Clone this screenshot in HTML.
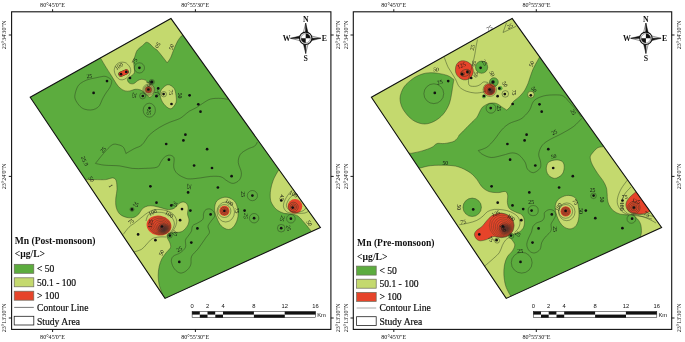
<!DOCTYPE html>
<html lang="en"><head><meta charset="utf-8"><title>Mn concentration maps</title>
<style>
html,body{margin:0;padding:0;background:#fff;}
body{width:685px;height:342px;overflow:hidden;}
svg{display:block;font-family:"Liberation Serif","DejaVu Serif",serif;fill:#111;filter:blur(0.4px);}
</style></head><body>
<svg width="685" height="342" viewBox="0 0 685 342">
<defs>
<radialGradient id="dense"><stop offset="0" stop-color="#332a2a" stop-opacity="0.85"/><stop offset="0.45" stop-color="#3a2a28" stop-opacity="0.55"/><stop offset="1" stop-color="#402820" stop-opacity="0"/></radialGradient>
<clipPath id="clipL"><polygon points="170.9,18.4 320.4,227.5 165,298.4 30.2,97.2"/></clipPath>
<clipPath id="clipR"><polygon points="512.1,18.4 661.6,227.5 506.2,298.4 371.4,97.2"/></clipPath>
</defs>
<rect width="685" height="342" fill="#fff"/>
<g clip-path="url(#clipL)">
<rect x="20" y="10" width="310" height="295" fill="#5cac3e"/>
<path d="M100.8 58.5C101.7 60 104.3 64.6 106.1 67.4C107.8 70.2 109.6 72.9 111.3 75.6C113 78.3 115 81.7 116.4 83.8C117.9 85.9 118.6 86.8 120 88C121.4 89.2 123.3 90.4 125 90.9C126.7 91.4 128.3 91.2 130 90.9C131.7 90.6 133.4 89.5 135.1 89.3C136.8 89.1 138.7 89.3 140.2 89.8C141.7 90.3 142.9 91.3 144.3 92.4C145.7 93.5 147.4 95.7 148.4 96.5C149.4 97.3 149.7 97.5 150.5 97C151.3 96.5 152.8 94.7 153.5 93.4C154.2 92.1 154.7 90.6 154.6 89.3C154.5 88 153.7 86.6 153 85.7C152.3 84.8 151.4 84.3 150.5 83.7C149.6 83.1 148.2 82.8 147.4 82.2C146.6 81.6 146.4 80.6 145.4 80.1C144.4 79.6 142.6 79.2 141.3 79.3C140.1 79.4 139.2 79.8 137.9 80.5C136.7 81.2 135.2 83.1 133.8 83.6C132.4 84.1 130.7 83.8 129.7 83.3C128.7 82.8 127.9 81.6 127.6 80.7C127.3 79.8 127.4 78.9 128.1 78.1C128.8 77.2 130.6 76.5 131.7 75.6C132.8 74.7 134 73.9 134.4 72.5C134.8 71.1 134.3 69.3 134.2 67.4C134.1 65.5 133.5 63.2 133.6 61.3C133.7 59.4 134.4 58 135 56.1C135.6 54.2 136.1 51.8 137.4 50C138.7 48.2 141.1 46.8 142.6 45.5C144.1 44.2 145.1 42.5 146.3 42.3C147.5 42 148.8 43.1 150 44C151.2 44.9 152.3 46.6 153.5 47.6C154.7 48.6 155.8 48.9 157 50C158.2 51.1 159.2 52.6 160.4 54C161.6 55.4 162.8 57 163.9 58.5C165 60 167.2 62.8 167.2 62.8C167.2 62.8 169.6 59.8 170.7 57.5C171.8 55.2 172.8 51.8 174 49C175.2 46.2 176.5 43.2 177.7 41C178.9 38.8 180.8 36.8 181.4 36L190 30L171 8L90 55Z" fill="#c4d96e" stroke="#2b3a20" stroke-width="0.45"/>
<path d="M167.9 84.7C170 84.5 172.7 86.5 174 88.3C175.3 90.1 175.7 93.1 176 95.5C176.3 97.9 176.7 100.5 176 102.6C175.3 104.7 173.3 107.4 172 108.3C170.7 109.2 169.4 108.8 167.9 107.8C166.4 106.8 164.1 104.6 162.8 102.6C161.5 100.5 160.4 97.7 160.2 95.5C160 93.3 160.4 91.1 161.7 89.3C163 87.5 165.8 84.9 167.9 84.7Z" fill="#c4d96e" stroke="#2b3a20" stroke-width="0.45"/>
<path d="M86.3 179.6C87.8 179.6 91.9 179.6 95.1 179.6C98.3 179.6 102.7 179.9 105.6 179.6C108.5 179.3 110.8 177.8 112.6 177.9C114.3 178.1 115.4 178.6 116.1 180.5C116.8 182.4 117 186.4 117 189.3C117 192.2 116 195.2 115.8 198.1C115.6 201 115.5 204.2 116.1 206.8C116.7 209.4 117.8 212.1 119.6 213.9C121.4 215.7 124.4 216.8 126.7 217.4C129.1 218 131.7 218 133.7 217.4C135.7 216.8 137.4 215.4 138.9 213.9C140.4 212.4 141 209.9 142.5 208.6C144 207.3 145.8 206.4 147.7 206C149.6 205.6 151.4 205.6 153.9 206C156.4 206.4 160.2 207.6 162.6 208.2C165 208.8 166.6 209.6 168.5 209.6C170.4 209.6 172.6 209.2 174.3 208.2C176 207.2 177.2 204.9 178.7 203.8C180.2 202.8 181.8 201.9 183.1 201.9C184.4 201.9 186 202.8 186.8 203.8C187.7 204.9 188.1 206.5 188.2 208.2C188.3 209.9 187.4 212.1 187.5 214C187.6 215.9 189 218 189 219.9C189 221.8 188.5 223.9 187.5 225.7C186.5 227.5 184.6 229.7 183.1 230.8C181.6 231.9 180.4 232.1 178.7 232.3C177 232.6 174.6 232.1 172.9 232.3C171.2 232.5 169.5 232.9 168.5 233.7C167.5 234.5 166.8 235.6 167 237C167.2 238.4 169 240.6 169.6 242.3C170.2 244.1 171.1 245.8 170.5 247.5C169.9 249.2 167.5 250.9 166.1 252.8C164.7 254.7 163 256.6 161.8 258.9C160.6 261.2 159.7 264 159.1 266.8C158.5 269.6 158.2 272.7 158.2 275.6C158.2 278.5 158.6 282 159.1 284.4C159.6 286.8 160.2 288.1 160.9 290C161.6 291.9 162.7 295 163 296L160 305L70 180Z" fill="#c4d96e" stroke="#2b3a20" stroke-width="0.45"/>
<path d="M224.1 197.3C226.5 196.9 229.3 197.6 231.4 198.8C233.5 200 235.4 201.7 236.5 204.6C237.6 207.5 238.4 212.8 238 216.3C237.6 219.8 235.9 223.6 234.3 225.8C232.7 228 230.7 229.5 228.5 229.5C226.3 229.5 223.1 227.8 221.2 225.8C219.2 223.9 217.9 220.6 216.8 217.8C215.7 215 214.6 211.8 214.6 209C214.6 206.2 215.2 202.9 216.8 201C218.4 199.1 221.7 197.7 224.1 197.3Z" fill="#c4d96e" stroke="#2b3a20" stroke-width="0.45"/>
<path d="M278.2 170.7C277.4 172.2 274.6 176.8 273.3 180C272 183.2 271.1 186.8 270.6 190C270.1 193.2 270.1 196.6 270.4 199C270.7 201.4 271.4 202.8 272.5 204.6C273.6 206.4 274.9 208.4 276.8 209.8C278.7 211.2 281.3 212.6 283.9 213.3C286.5 214 290.3 213.8 292.6 214.2C294.9 214.6 296.3 215 297.9 216C299.5 217 300.8 218.8 302.3 220.4C303.8 222 305.1 223.7 306.7 225.6C308.2 227.5 310.8 230.7 311.6 231.7L330 235L330 220L285 165Z" fill="#c4d96e" stroke="#2b3a20" stroke-width="0.45"/>
<path d="M121 74.1L126.2 71.9" stroke="#e6442a" stroke-width="4.6" stroke-linecap="round"/>
<circle cx="148.5" cy="89.7" r="3.3" fill="#e6442a"/>
<ellipse cx="159" cy="225.5" rx="12.5" ry="10" fill="#e6442a" transform="rotate(10 159 225.5)"/>
<circle cx="224.4" cy="210.9" r="5.1" fill="#e6442a"/>
<circle cx="295" cy="206.3" r="7.3" fill="#e6442a"/>
<path d="M114.3 69.4C114.5 67.7 115.5 65.7 116.5 64.5C117.5 63.3 119.1 62.6 120.5 62.3C121.9 62 123.8 62.2 125 62.5C126.2 62.8 126.8 63.5 127.6 64.3C128.4 65.1 129.5 66.3 130 67.5C130.5 68.7 130.9 70.1 130.7 71.5C130.4 72.9 129.5 74.7 128.5 76C127.5 77.3 125.8 78.6 124.6 79.2C123.3 79.8 122 79.9 121 79.8C120 79.7 119.3 79.5 118.4 78.7C117.5 77.9 116.2 76.5 115.5 75C114.8 73.5 114.1 71.2 114.3 69.4Z" fill="none" stroke="#2b3a20" stroke-width="0.45"/>
<path d="M121 74.1L126.2 71.9" stroke="#2b3a20" stroke-width="5.4" stroke-linecap="round" opacity="0.0"/>
<path d="M121 74.1L126.2 71.9" stroke="#2b3a20" stroke-width="5.3" stroke-linecap="round"/><path d="M121 74.1L126.2 71.9" stroke="#e6442a" stroke-width="4.4" stroke-linecap="round"/>
<circle cx="148.5" cy="89.7" r="1.5" fill="none" stroke="#2b3a20" stroke-width="0.45"/>
<circle cx="148.5" cy="89.7" r="2.5" fill="none" stroke="#2b3a20" stroke-width="0.45"/>
<circle cx="148.5" cy="89.7" r="3.4" fill="none" stroke="#2b3a20" stroke-width="0.45"/>
<circle cx="148.5" cy="89.7" r="4.5" fill="none" stroke="#2b3a20" stroke-width="0.45"/>
<circle cx="148.5" cy="89.7" r="5.6" fill="none" stroke="#2b3a20" stroke-width="0.45"/>
<path d="M74.9 95C75.3 92.6 76.6 88.2 78 86C79.4 83.8 81.7 82.6 83.5 81.5C85.3 80.4 87.1 79.9 89 79.3C90.9 78.7 93 78.4 95 78C97 77.6 99.5 77 101.2 76.7C102.9 76.4 103.8 76.2 105 76.3C106.2 76.4 107.2 77 108.2 77.5C109.2 78 110.4 78.8 111 79.5C111.6 80.2 112 80.7 111.8 82C111.6 83.3 110.8 85.6 110 87.2C109.2 88.8 107.9 90.2 107 91.5C106.1 92.8 105.5 93.6 104.7 95C103.9 96.4 102.9 98.2 102 100C101.1 101.8 100.6 104.1 99.5 105.6C98.4 107.1 97 108.1 95.5 108.8C94 109.5 92.5 109.9 90.7 110C89 110.1 86.8 109.9 85 109.3C83.2 108.7 81.7 108 80.2 106.5C78.7 105 76.7 102.3 75.8 100.4C74.9 98.5 74.5 97.4 74.9 95Z" fill="none" stroke="#2b3a20" stroke-width="0.45"/>
<path d="M228.1 99.4C226.9 99.2 223.8 98.5 220.9 98.4C218 98.3 213.8 98.2 210.7 99C207.6 99.8 204.9 102.1 202.5 103.5C200.1 104.9 198.6 106.3 196.4 107.6C194.2 108.9 191.4 109.9 189.3 111.2C187.2 112.5 185.7 114.2 184 115.5C182.3 116.8 181.8 117.5 179.4 118.7C177 119.9 172.7 121 169.4 122.4C166.1 123.9 162.8 125.3 159.5 127.4C156.2 129.5 152.4 131.9 149.5 134.8C146.6 137.7 144.5 142.5 142 144.8C139.5 147.1 137.3 147.1 134.6 148.5C131.9 149.9 125.9 153.5 125.9 153.5C125.9 153.5 124.7 148.8 123.4 147.3C122.2 145.9 120.3 145.2 118.4 144.8C116.5 144.4 114.7 143.4 112.2 144.8C109.7 146.2 106.3 150.4 103.5 153.5C100.7 156.6 95.5 163.4 95.5 163.4C95.5 163.4 100.7 164.8 104.7 165.2C108.7 165.6 115.1 165.4 119.7 165.9C124.3 166.4 128 168 132.1 168.4C136.2 168.8 140.3 168.6 144.5 168.4C148.7 168.2 154.3 168.2 157 167.2C159.7 166.2 159.5 163.9 160.7 162.2C161.9 160.5 162.9 158.4 164.4 157.2C165.9 156 167.8 155.1 169.4 155.2C171 155.3 173.3 155.8 174 157.8C174.7 159.9 173.2 164.8 173.8 167.5C174.4 170.2 175.6 172.1 177.5 173.8C179.4 175.6 182.9 177.2 185 178C187.1 178.8 187.6 178.9 190.2 178.9C192.8 178.9 197.1 178.3 200.5 177.9C203.9 177.5 207.3 176.6 210.7 176.4C214.1 176.2 218.2 176.1 220.9 176.8C223.6 177.6 225.1 179.8 227.1 180.9C229.1 182 231.1 183.6 233.2 183.4C235.2 183.2 238 181.7 239.4 179.9C240.8 178.1 241.6 175.6 241.4 172.7C241.2 169.8 238.5 165.6 238.3 162.5C238.1 159.4 238.9 156.5 240.4 154.3C241.9 152.1 245.1 150.6 247.5 149.2C249.9 147.8 253 147.3 254.7 146.1C256.3 144.9 256.9 142.7 257.4 142" fill="none" stroke="#2b3a20" stroke-width="0.45"/>
<path d="M134 251.9C135.3 251.5 139.5 250.6 141.6 249.3C143.7 248 145.1 245.8 146.8 244C148.6 242.2 150.1 240 152.1 238.8C154.1 237.6 156.8 237.3 159.1 237C161.4 236.7 164.9 237 166.1 237" fill="none" stroke="#2b3a20" stroke-width="0.45"/>
<path d="M123.2 234.5C124.2 233.3 127 229.1 129 227.2C130.9 225.2 132.7 224.5 134.9 222.8C137.1 221.1 140 218.6 142.2 216.9C144.4 215.2 145.8 213.7 148 212.5C150.2 211.3 152.4 209.9 155.3 209.6C158.2 209.2 162.7 209.7 165.6 210.4C168.5 211.1 171.1 212.4 172.9 214C174.7 215.6 176 218 176.5 219.9C177 221.8 176.4 223.9 175.8 225.7C175.2 227.5 174 229.3 172.9 230.8C171.8 232.3 169.7 233.9 169 234.5" fill="none" stroke="#2b3a20" stroke-width="0.45"/>
<path d="M146 221C146.4 219.9 146.9 215.9 148.7 214.5C150.5 213.1 154 212.5 156.8 212.3C159.6 212.1 163.2 212.5 165.6 213.3C168 214.1 169.9 215.3 171.4 216.9C172.9 218.5 174 220.9 174.3 222.8C174.6 224.7 173.8 226.7 173 228.5C172.2 230.3 170.1 232.7 169.5 233.5" fill="none" stroke="#2b3a20" stroke-width="0.45"/>
<ellipse cx="159.8" cy="225.7" rx="10.9" ry="8.9" fill="none" stroke="#2b3a20" stroke-width="0.31875" transform="rotate(10 159.8 225.7)"/>
<ellipse cx="160.3" cy="226.1" rx="9.5" ry="7.8" fill="none" stroke="#2b3a20" stroke-width="0.33749999999999997" transform="rotate(10 160.3 226.1)"/>
<ellipse cx="160.8" cy="226.5" rx="8" ry="6.6" fill="none" stroke="#2b3a20" stroke-width="0.35624999999999996" transform="rotate(10 160.8 226.5)"/>
<ellipse cx="161.3" cy="226.9" rx="6.6" ry="5.4" fill="none" stroke="#2b3a20" stroke-width="0.375" transform="rotate(10 161.3 226.9)"/>
<ellipse cx="161.8" cy="227.3" rx="5.2" ry="4.3" fill="none" stroke="#2b3a20" stroke-width="0.39375" transform="rotate(10 161.8 227.3)"/>
<ellipse cx="162.3" cy="227.7" rx="3.8" ry="3.1" fill="none" stroke="#2b3a20" stroke-width="0.4125" transform="rotate(10 162.3 227.7)"/>
<ellipse cx="162.8" cy="228.1" rx="2.3" ry="1.9" fill="none" stroke="#2b3a20" stroke-width="0.43125" transform="rotate(10 162.8 228.1)"/>
<ellipse cx="163.6" cy="228.6" rx="7.5" ry="6.5" fill="url(#dense)"/>
<path d="M203.6 213.4C204.1 211.8 204.7 210.4 205.8 209.7C206.9 209 208.8 208.6 210.2 209C211.5 209.4 213.2 210.7 213.9 211.9C214.6 213.1 215.1 214.7 214.6 216.3C214.1 217.9 212 219.7 210.9 221.4C209.8 223.1 208.2 224.7 208 226.5C207.8 228.3 209.8 230.7 209.5 232.4C209.2 234.1 207.5 235.4 206.5 236.8C205.5 238.2 205.1 238.9 203.6 241C202.1 243.1 199.7 246.8 197.7 249.3C195.7 251.9 192.8 253.7 191.6 256.3C190.4 258.9 191.6 262.6 190.7 265C189.8 267.4 187.8 269.7 186 271C184.2 272.3 182.1 273.3 180.2 273C178.3 272.7 176 270.9 174.5 269C173 267.1 171.6 263.7 171.4 261.6C171.2 259.5 171.7 257.8 173.2 256.3C174.7 254.8 178.2 254.3 180.2 252.8C182.2 251.3 184.5 249.6 185.4 247.5C186.3 245.4 185.1 242.3 185.4 240.5C185.8 238.7 186.5 238.3 187.5 236.8C188.5 235.3 190.3 233.5 191.2 231.7C192.1 229.9 191.6 227.3 192.7 225.8C193.8 224.3 196.1 224 197.8 222.9C199.5 221.8 201.9 220.8 202.9 219.2C203.9 217.6 203.1 215 203.6 213.4Z" fill="none" stroke="#2b3a20" stroke-width="0.45"/>
<circle cx="224.4" cy="211" r="2.4" fill="none" stroke="#2b3a20" stroke-width="0.45"/>
<circle cx="224.4" cy="211" r="3.8" fill="none" stroke="#2b3a20" stroke-width="0.45"/>
<circle cx="224.4" cy="211" r="6.5" fill="none" stroke="#2b3a20" stroke-width="0.45"/>
<ellipse cx="225.7" cy="212" rx="8.8" ry="10" fill="none" stroke="#2b3a20" stroke-width="0.45"/>
<path d="M292.6 189.6C291.7 190.6 288.8 193.6 287.4 195.8C285.9 198 284.5 200.8 283.9 202.8C283.3 204.9 283.2 206.5 283.9 208.1C284.6 209.7 285.9 211.6 288.2 212.5C290.5 213.4 295.1 213.2 297.9 213.3C300.7 213.4 303 213.4 304.9 213C306.8 212.6 308.6 211.1 309.3 210.7" fill="none" stroke="#2b3a20" stroke-width="0.45"/>
<path d="M296.1 193.2C295.2 193.8 292.3 195.2 290.9 196.7C289.4 198.1 288.1 200.3 287.4 201.9C286.7 203.5 286.1 204.8 286.5 206.3C286.9 207.8 288.4 209.7 290 210.7C291.6 211.7 293.9 212.5 296.1 212.5C298.3 212.5 301.6 211.4 303.2 210.7C304.8 209.9 305.4 208.4 305.8 208" fill="none" stroke="#2b3a20" stroke-width="0.45"/>
<circle cx="293.4" cy="207" r="1.8" fill="none" stroke="#2b3a20" stroke-width="0.45"/>
<circle cx="293.4" cy="207" r="3.2" fill="none" stroke="#2b3a20" stroke-width="0.45"/>
<circle cx="293.4" cy="207" r="4.8" fill="none" stroke="#2b3a20" stroke-width="0.45"/>
<circle cx="139.4" cy="67.9" r="5.1" fill="none" stroke="#2b3a20" stroke-width="0.45"/>
<circle cx="163.8" cy="94.2" r="2.7" fill="none" stroke="#2b3a20" stroke-width="0.45"/>
<circle cx="142.6" cy="95.9" r="3" fill="none" stroke="#2b3a20" stroke-width="0.45"/>
<circle cx="252.4" cy="195.6" r="5.1" fill="none" stroke="#2b3a20" stroke-width="0.45"/>
<circle cx="254.1" cy="218.2" r="4.7" fill="none" stroke="#2b3a20" stroke-width="0.45"/>
<circle cx="290.9" cy="218.7" r="4.3" fill="none" stroke="#2b3a20" stroke-width="0.45"/>
<circle cx="281.2" cy="228.2" r="3.8" fill="none" stroke="#2b3a20" stroke-width="0.45"/>
<circle cx="132" cy="209.4" r="2" fill="none" stroke="#2b3a20" stroke-width="0.45"/>
<circle cx="169.8" cy="235.6" r="2.4" fill="none" stroke="#2b3a20" stroke-width="0.45"/>
<circle cx="151.8" cy="82" r="2.6" fill="none" stroke="#2b3a20" stroke-width="0.45"/>
<ellipse cx="149.3" cy="110.2" rx="6.1" ry="7" fill="none" stroke="#2b3a20" stroke-width="0.45"/>
</g>
<polygon points="170.9,18.4 320.4,227.5 165,298.4 30.2,97.2" fill="none" stroke="#111" stroke-width="1.1"/>
<text x="171.4" y="47" font-size="5.7" text-anchor="middle" transform="rotate(-75 171.4 47)" dy="2">50</text>
<text x="157.7" y="45.3" font-size="5.7" text-anchor="middle" transform="rotate(120 157.7 45.3)" dy="2">50</text>
<text x="118.9" y="66.2" font-size="5.7" text-anchor="middle" transform="rotate(-35 118.9 66.2)" dy="2">100</text>
<text x="134.5" y="61" font-size="5.7" text-anchor="middle" transform="rotate(-60 134.5 61)" dy="2">75</text>
<text x="89.3" y="76.1" font-size="5.7" text-anchor="middle" transform="rotate(-5 89.3 76.1)" dy="2">25</text>
<text x="134.4" y="95.4" font-size="5.7" text-anchor="middle" transform="rotate(100 134.4 95.4)" dy="2">25</text>
<text x="170.9" y="92.4" font-size="5.7" text-anchor="middle" transform="rotate(85 170.9 92.4)" dy="2">75</text>
<text x="180.2" y="95.5" font-size="5.7" text-anchor="middle" transform="rotate(90 180.2 95.5)" dy="2">50</text>
<text x="157.3" y="93.5" font-size="5.7" text-anchor="middle" transform="rotate(60 157.3 93.5)" dy="2">75</text>
<text x="148.9" y="112.2" font-size="5.7" text-anchor="middle" transform="rotate(100 148.9 112.2)" dy="2">25</text>
<text x="103" y="149.8" font-size="5.7" text-anchor="middle" transform="rotate(-50 103 149.8)" dy="2">25</text>
<text x="84.8" y="161" font-size="5.7" text-anchor="middle" transform="rotate(65 84.8 161)" dy="2">25.0</text>
<text x="91.4" y="179.3" font-size="5.7" text-anchor="middle" transform="rotate(60 91.4 179.3)" dy="2">50</text>
<text x="189.2" y="186.7" font-size="5.7" text-anchor="middle" transform="rotate(100 189.2 186.7)" dy="2">25</text>
<text x="243.4" y="194.2" font-size="5.7" text-anchor="middle" transform="rotate(90 243.4 194.2)" dy="2">25</text>
<text x="136" y="204.4" font-size="5.7" text-anchor="middle" transform="rotate(30 136 204.4)" dy="2">25</text>
<text x="175.1" y="204.1" font-size="5.7" text-anchor="middle" transform="rotate(30 175.1 204.1)" dy="2">25</text>
<text x="130.9" y="221.5" font-size="5.7" text-anchor="middle" transform="rotate(-35 130.9 221.5)" dy="2">75</text>
<text x="152.6" y="212.3" font-size="5.7" text-anchor="middle" transform="rotate(-25 152.6 212.3)" dy="2">100</text>
<text x="169.2" y="214.2" font-size="5.7" text-anchor="middle" transform="rotate(30 169.2 214.2)" dy="2">100</text>
<text x="175.1" y="233.3" font-size="5.7" text-anchor="middle" transform="rotate(30 175.1 233.3)" dy="2">25</text>
<text x="161.4" y="252.8" font-size="5.7" text-anchor="middle" transform="rotate(-65 161.4 252.8)" dy="2">50</text>
<text x="179.3" y="249" font-size="5.7" text-anchor="middle" transform="rotate(-30 179.3 249)" dy="2">25</text>
<text x="229.2" y="202.4" font-size="5.7" text-anchor="middle" transform="rotate(30 229.2 202.4)" dy="2">100</text>
<text x="237.3" y="210.5" font-size="5.7" text-anchor="middle" transform="rotate(90 237.3 210.5)" dy="2">75</text>
<text x="246" y="216" font-size="5.7" text-anchor="middle" transform="rotate(100 246 216)" dy="2">25</text>
<text x="293.5" y="194" font-size="5.7" text-anchor="middle" transform="rotate(25 293.5 194)" dy="2">100</text>
<text x="282" y="197.5" font-size="5.7" text-anchor="middle" transform="rotate(100 282 197.5)" dy="2">45</text>
<text x="309.4" y="223.2" font-size="5.7" text-anchor="middle" transform="rotate(60 309.4 223.2)" dy="2">50</text>
<text x="282.4" y="218.7" font-size="5.7" text-anchor="middle" transform="rotate(110 282.4 218.7)" dy="2">25</text>
<text x="288.8" y="228" font-size="5.7" text-anchor="middle" transform="rotate(80 288.8 228)" dy="2">25</text>
<text x="150.2" y="223.6" font-size="5.7" text-anchor="middle" transform="rotate(-80 150.2 223.6)" dy="2">125</text>
<text x="110.9" y="185.8" font-size="5.7" text-anchor="middle" transform="rotate(60 110.9 185.8)" dy="2">1</text>
<text x="149" y="84" font-size="5.7" text-anchor="middle" transform="rotate(70 149 84)" dy="2">75</text>
<g fill="#111">
<circle cx="121" cy="74.2" r="1.35"/>
<circle cx="126.3" cy="71.9" r="1.35"/>
<circle cx="139.4" cy="67.8" r="1.35"/>
<circle cx="130" cy="78" r="1.35"/>
<circle cx="107" cy="81.1" r="1.35"/>
<circle cx="93.6" cy="92.9" r="1.35"/>
<circle cx="148.4" cy="89.5" r="1.35"/>
<circle cx="158.2" cy="88.4" r="1.35"/>
<circle cx="163.6" cy="94.1" r="1.35"/>
<circle cx="156.4" cy="96.2" r="1.35"/>
<circle cx="142.8" cy="96" r="1.35"/>
<circle cx="189.6" cy="95.3" r="1.35"/>
<circle cx="171.5" cy="104" r="1.35"/>
<circle cx="149.5" cy="108.1" r="1.35"/>
<circle cx="198.3" cy="104.3" r="1.35"/>
<circle cx="200.5" cy="111.7" r="1.35"/>
<circle cx="185.4" cy="134.7" r="1.35"/>
<circle cx="183.4" cy="140.4" r="1.35"/>
<circle cx="166.2" cy="144" r="1.35"/>
<circle cx="207.1" cy="149.2" r="1.35"/>
<circle cx="168.9" cy="159.7" r="1.35"/>
<circle cx="194.1" cy="165.5" r="1.35"/>
<circle cx="212" cy="168" r="1.35"/>
<circle cx="231.6" cy="176.2" r="1.35"/>
<circle cx="217.9" cy="187.5" r="1.35"/>
<circle cx="188.1" cy="192.4" r="1.35"/>
<circle cx="252.4" cy="195.6" r="1.35"/>
<circle cx="150.4" cy="186.3" r="1.35"/>
<circle cx="156.5" cy="202.7" r="1.35"/>
<circle cx="171.3" cy="205.4" r="1.35"/>
<circle cx="132" cy="209.4" r="1.35"/>
<circle cx="182" cy="209.1" r="1.35"/>
<circle cx="190.4" cy="210.6" r="1.35"/>
<circle cx="180.1" cy="220.2" r="1.35"/>
<circle cx="161.9" cy="226.5" r="1.35"/>
<circle cx="138.1" cy="234.4" r="1.35"/>
<circle cx="169.8" cy="235.6" r="1.35"/>
<circle cx="155.4" cy="240.2" r="1.35"/>
<circle cx="197.4" cy="228.4" r="1.35"/>
<circle cx="191.3" cy="242.6" r="1.35"/>
<circle cx="179.3" cy="261.9" r="1.35"/>
<circle cx="210.6" cy="214.4" r="1.35"/>
<circle cx="224.4" cy="210.9" r="1.35"/>
<circle cx="244.6" cy="210.6" r="1.35"/>
<circle cx="254.1" cy="218.2" r="1.35"/>
<circle cx="281.3" cy="200.5" r="1.35"/>
<circle cx="292.7" cy="207.6" r="1.35"/>
<circle cx="290.9" cy="218.7" r="1.35"/>
<circle cx="281.2" cy="228.2" r="1.35"/>
<circle cx="151.8" cy="82" r="1.7"/>
</g>
<g clip-path="url(#clipR)">
<rect x="360" y="10" width="312" height="295" fill="#5cac3e"/>
<path d="M539.5 57.2C538.5 59.1 535.1 64.6 533.3 68.6C531.5 72.5 529.8 78.4 528.9 80.9C528 83.4 528.6 82.2 527.9 83.8C527.1 85.4 525.9 88.6 524.4 90.8C522.9 93 520.9 95.2 519.1 96.9C517.3 98.7 515.1 99.7 513.6 101.3C512.1 102.9 511.4 105.1 510.3 106.6C509.2 108.1 506.8 110.1 506.8 110.1C506.8 110.1 503.6 108 501.8 106.9C500.1 105.8 498.4 104 496.3 103.4C494.2 102.8 491.5 102.9 489.3 103.4C487.1 103.9 484.6 105.5 483.2 106.6C481.8 107.7 481.7 108.1 480.6 109.9C479.6 111.7 478.3 115.2 476.9 117.3C475.4 119.4 473.5 120.6 471.9 122.3C470.2 124 469.1 125.2 467 127.3C464.9 129.4 461.6 132.5 459.5 134.8C457.4 137.1 457 139.6 454.5 141C452 142.4 447.5 143.1 444.6 143.5C441.7 143.9 439.2 142.9 437.1 143.5C435 144.1 434.6 146 432.1 147.2C429.6 148.4 425.7 149.9 422.2 150.9C418.7 151.9 412.9 153 411 153.4L395 150L360 97L512 5L550 55Z" fill="#c4d96e" stroke="#2b3a20" stroke-width="0.45"/>
<path d="M419.9 168.1C421.6 167.7 425.9 166.2 430.4 165.7C434.9 165.2 442.1 165.1 446.8 165.3C451.5 165.5 454.6 165.7 458.5 166.9C462.4 168.1 467.1 170.5 470.2 172.7C473.3 174.8 475.2 177.5 477.2 179.8C479.1 182.2 479.9 184.9 481.9 186.8C483.8 188.8 486.2 190.5 488.9 191.5C491.6 192.5 495.5 192.6 498.2 192.6C500.9 192.6 503.7 191 505.3 191.5C506.9 192 507.4 193.7 507.7 195.5C508 197.3 507.1 200.3 507.4 202.5C507.7 204.7 508 206.9 509.4 208.5C510.8 210.1 513.5 211 515.6 212.1C517.7 213.2 520.3 213.4 521.8 214.8C523.3 216.2 524.1 218.3 524.4 220.4C524.7 222.5 524.3 225.6 523.5 227.5C522.7 229.4 521.2 230.7 519.6 231.8C518 232.9 515.3 233.1 513.8 234C512.3 234.9 510.2 235.4 510.4 237.1C510.6 238.8 514.3 242.1 514.7 244.3C515.1 246.5 513.9 248.4 512.7 250.5C511.5 252.6 508.9 254.2 507.5 256.6C506.1 259 505.1 261.7 504.5 264.8C503.9 267.9 503.7 271.6 503.9 275C504.1 278.4 504.7 282.4 505.5 285.3C506.3 288.2 507.7 290.5 508.6 292.4C509.6 294.3 510.8 295.8 511.2 296.5L506 305L400 168Z" fill="#c4d96e" stroke="#2b3a20" stroke-width="0.45"/>
<path d="M548.5 162.3C550.1 160.8 553.8 160 556.1 159.9C558.4 159.8 561.1 160.4 562.5 161.7C563.9 163 564.3 165.3 564.2 167.5C564.1 169.7 563.5 172.8 561.9 174.6C560.3 176.4 557.1 178.3 554.9 178.4C552.7 178.5 549.9 176.7 548.5 175.1C547.1 173.5 546.3 170.8 546.3 168.7C546.3 166.6 546.9 163.8 548.5 162.3Z" fill="#c4d96e" stroke="#2b3a20" stroke-width="0.45"/>
<path d="M566.6 195.5C569.4 195.1 572.6 195.8 574.5 197.3C576.4 198.8 577.3 201.1 578 204.3C578.7 207.5 579.2 213.1 578.9 216.6C578.6 220.1 577.7 223.3 576.2 225.4C574.7 227.5 572.3 228.8 570.1 228.9C567.9 229 565.2 228 563.1 226.2C561 224.4 559.1 221.4 557.8 218.3C556.5 215.2 555.2 210.9 555.2 207.8C555.2 204.7 555.9 202 557.8 199.9C559.7 197.8 563.8 195.9 566.6 195.5Z" fill="#c4d96e" stroke="#2b3a20" stroke-width="0.45"/>
<path d="M602.8 146.7C601.9 146.9 599.2 146.8 597.5 147.9C595.8 149 593.5 151.6 592.3 153.2C591.1 154.8 590.2 155.6 590.2 157.5C590.2 159.4 591.1 162 592.3 164.6C593.5 167.2 595.8 170.7 597.5 173.3C599.2 175.9 601.3 178.1 602.8 180.4C604.3 182.8 605.6 185.1 606.3 187.4C607 189.7 607 192.6 607.2 194.4C607.4 196.2 607.1 196.8 607.4 198.5C607.7 200.2 607.9 202.6 608.9 204.6C609.9 206.6 611.4 209.1 613.3 210.7C615.2 212.3 617.8 213.5 620.4 214.2C623 214.9 626.5 214.5 629.1 215.1C631.7 215.7 634.2 216.2 636.1 217.7C638 219.2 639.6 221.4 640.5 223.9C641.4 226.4 641.5 230.1 641.4 232.6C641.2 235.1 639.9 237.8 639.6 238.8L670 240L670 222L610 140Z" fill="#c4d96e" stroke="#2b3a20" stroke-width="0.45"/>
<circle cx="530.9" cy="94.6" r="3.3" fill="#c4d96e"/>
<ellipse cx="456.6" cy="137.2" rx="0.9" ry="2.2" fill="#c4d96e" transform="rotate(40 456.6 137.2)"/>
<path d="M453.9 79.6C453.9 79.6 450.8 77.2 449.4 76.4C448 75.6 446.9 75.3 445.5 74.9C444.1 74.5 442.8 74.2 441.2 73.9C439.6 73.6 437.7 73.2 436 73C434.3 72.8 432.6 72.7 430.9 72.7C429.1 72.7 427.2 72.9 425.5 73.2C423.8 73.5 422.4 73.9 420.7 74.6C418.9 75.3 416.7 76.2 415 77.2C413.3 78.2 412 79.3 410.5 80.5C409 81.7 407.3 83 406 84.5C404.7 86 403.4 87.6 402.5 89.5C401.6 91.4 400.7 93.9 400.3 95.8C399.9 97.7 400 99.3 400.2 101C400.4 102.7 400.9 104.4 401.5 106C402.1 107.6 402.9 109.1 403.8 110.5C404.7 111.9 405.7 113.2 406.8 114.5C407.9 115.8 409.2 117.2 410.5 118.3C411.8 119.4 413.1 120.4 414.6 121.2C416.1 122 417.8 122.7 419.5 123.2C421.2 123.7 423.1 124 424.8 124C426.5 124 428 123.6 429.5 123.2C431 122.8 432.4 122.2 434 121.4C435.6 120.6 437.5 119.4 439 118.2C440.5 117 441.9 115.7 443.2 114.2C444.4 112.8 445.5 111.2 446.5 109.5C447.5 107.8 448.5 105.8 449.2 104C449.9 102.2 450.2 100.5 450.6 99C451 97.5 451.1 96.3 451.4 94.8C451.7 93.3 452 91.5 452.2 90C452.4 88.5 452.5 87.7 452.8 86C453.1 84.3 453.9 79.6 453.9 79.6Z" fill="#5cac3e" stroke="#2b3a20" stroke-width="0.45"/>
<circle cx="481.6" cy="67.2" r="6.1" fill="#5cac3e"/>
<circle cx="493.9" cy="82.1" r="4.4" fill="#5cac3e"/>
<circle cx="500.2" cy="88.2" r="2.3" fill="#5cac3e"/>
<circle cx="483.9" cy="96.5" r="2" fill="#5cac3e"/>
<circle cx="472.2" cy="207.3" r="9.2" fill="#5cac3e"/>
<circle cx="631.4" cy="218.9" r="4.4" fill="#5cac3e"/>
<circle cx="511.2" cy="235.9" r="2.6" fill="#5cac3e"/>
<path d="M455.4 70C455.4 68.4 455.7 66 456.5 64.5C457.3 63 458.6 61.9 460 61.3C461.4 60.7 463.4 60.7 465 61C466.6 61.3 468.2 62 469.5 63C470.8 64 471.9 65.5 472.5 67C473.1 68.5 473.5 70.4 473.3 72C473.1 73.6 472.4 75.3 471.5 76.5C470.6 77.7 469.3 78.8 468 79.3C466.7 79.8 465 80.1 463.5 79.8C462 79.5 460.2 78.5 459 77.5C457.8 76.5 456.9 75.2 456.3 74C455.7 72.8 455.4 71.6 455.4 70Z" fill="#e6442a" stroke="#2b3a20" stroke-width="0.45"/>
<circle cx="489.6" cy="89.5" r="6" fill="#e6442a"/>
<path d="M474.4 234.2C474.5 232.8 475.6 231.4 476.8 230.2C478 229 480.1 228.3 481.7 226.8C483.3 225.3 484.9 222.8 486.5 221C488.1 219.2 489.8 217.2 491.5 216C493.2 214.8 495.2 214.1 497 213.6C498.8 213.1 500.2 212.9 502 213.2C503.8 213.5 506.2 214.1 508 215.2C509.8 216.3 511.5 218.1 512.5 219.8C513.5 221.5 514 223.6 514 225.5C514 227.4 513.4 229.8 512.5 231.5C511.6 233.2 510.1 234.5 508.5 235.5C506.9 236.5 504.8 237.1 503 237.3C501.2 237.6 499.2 237.1 497.5 237C495.8 236.9 494.9 236.2 493 236.6C491.1 237 488.5 238.9 486.4 239.6C484.3 240.3 482.2 240.9 480.5 240.8C478.8 240.7 477.4 240 476.4 238.9C475.4 237.8 474.3 235.6 474.4 234.2Z" fill="#e6442a" stroke="#2b3a20" stroke-width="0.45"/>
<circle cx="565.7" cy="211.4" r="5.2" fill="#e6442a"/>
<path d="M638 190C636.7 191.2 631.9 195 630 197C628.1 199 627.2 200.4 626.5 202C625.8 203.6 625.8 204.9 626 206.3C626.2 207.7 626.9 209.3 628 210.5C629.1 211.7 630.7 212.7 632.6 213.3C634.5 213.9 637.1 214.3 639.6 214.2C642.1 214.1 644.8 213.5 647.5 212.5C650.2 211.5 654.6 208.8 656 208L650 195Z" fill="#e6442a" stroke="#2b3a20" stroke-width="0.45"/>
<path d="M506.5 22.8L503 32.5L516.1 26.3" fill="none" stroke="#2b3a20" stroke-width="0.45"/>
<path d="M477.5 39.5C477.2 40.8 476.4 44.6 476 47C475.6 49.4 475.4 51.4 474.9 54C474.4 56.6 473.7 59.9 473 62.8C472.3 65.7 471.2 68.7 470.5 71.6C469.8 74.5 468.6 78.1 468.5 80.4C468.4 82.7 468.4 84.6 469.6 85.6C470.8 86.6 474.1 86.4 475.8 86.3C477.5 86.2 478.7 85.4 480 84.7C481.3 84 482.2 82.4 483.5 82C484.8 81.6 487.2 82.4 488 82.5" fill="none" stroke="#2b3a20" stroke-width="0.45"/>
<path d="M444.2 57.2C444.8 58.7 446.6 64 447.7 66.3C448.8 68.6 449.6 69.5 450.5 71C451.4 72.5 452.1 73.6 453 75.1C453.9 76.6 454.8 77.8 455.8 79.8C456.9 81.8 457.6 84.9 459.3 86.8C461.1 88.7 463.7 90.2 466.3 91.2C468.9 92.2 472.3 92.8 475.1 93C477.9 93.2 481.2 92.4 483 92.1C484.8 91.8 485.5 91.2 486 91" fill="none" stroke="#2b3a20" stroke-width="0.45"/>
<circle cx="433.8" cy="93.7" r="9.9" fill="none" stroke="#2b3a20" stroke-width="0.45"/>
<path d="M581.9 118.2C580.5 119.6 577 123.9 573.7 126.4C570.4 128.9 566 131.2 562.1 133.4C558.2 135.6 553.7 137.4 550.4 139.3C547.1 141.2 544.5 142.6 542.5 145C540.5 147.4 539 151.2 538.7 154C538.4 156.8 540.4 159.6 540.6 162C540.8 164.4 541.2 166.5 540 168.3C538.8 170.1 535.4 172.5 533.3 172.7C531.2 172.8 528.9 170.9 527.5 169.2C526.1 167.4 526.5 164.5 525.1 162.2C523.7 159.9 521.4 156.8 519.3 155.2C517.2 153.6 515 152.9 512.3 152.9C509.6 152.9 506.4 154.4 502.9 155.2C499.4 156 494.7 157.7 491.2 157.5C487.7 157.3 484 155.2 481.9 154C479.8 152.8 478.4 150.5 478.4 150.5C478.4 150.5 484.2 149 486.9 147.2C489.5 145.4 491.8 142.6 494.3 139.7C496.8 136.8 499.3 132.5 501.8 129.8C504.3 127.1 506.3 125.3 509.2 123.6C512.1 121.9 516.7 121 519.2 119.8C521.7 118.6 522.3 118.1 524 116.5C525.7 114.9 527.9 112.7 529.6 110.1C531.3 107.5 531.7 103 534 100.7C536.3 98.4 539.9 97 543.4 96C546.9 95 551.7 94.9 555 94.9C558.3 94.9 560.9 94.8 563.2 96C565.6 97.2 567 99.6 569.1 101.9C571.2 104.2 574.1 107.5 576.1 110C578.1 112.5 580.4 115.8 581.2 117" fill="none" stroke="#2b3a20" stroke-width="0.45"/>
<circle cx="491" cy="108.3" r="4.9" fill="none" stroke="#2b3a20" stroke-width="0.45"/>
<path d="M459.3 224.8C460.8 224.5 465.2 223.8 468.1 223.1C471 222.4 474.3 221.6 476.8 220.4C479.3 219.2 481.2 217.6 483 216.1C484.8 214.6 485.5 212.8 487.4 211.7C489.3 210.6 491.8 209.7 494.4 209.4C497 209.1 500.6 209.5 503.2 209.9C505.8 210.3 507.9 210.7 510.2 211.7C512.5 212.7 515.6 214.4 517.2 216.1C518.8 217.8 519.8 220 520 222C520.2 224 519.4 226.2 518.5 228C517.6 229.8 515.2 231.8 514.5 232.5" fill="none" stroke="#2b3a20" stroke-width="0.45"/>
<path d="M485 265.8C486.4 264.6 490.8 260.9 493.2 258.7C495.6 256.5 497.9 254.7 499.4 252.5C500.9 250.3 501.4 247.4 502.4 245.3C503.4 243.2 504.3 241.5 505.5 240.2C506.7 238.8 508.9 237.7 509.6 237.2" fill="none" stroke="#2b3a20" stroke-width="0.45"/>
<path d="M544.6 212.5C545.4 211.2 547.7 209.9 549.2 209.6C550.8 209.3 552.8 209.9 553.9 210.8C555 211.7 555.8 213.4 555.7 214.9C555.6 216.4 554.1 218.6 553.3 220.1C552.5 221.6 551.3 222.7 551 224.2C550.7 225.7 551.6 227.6 551.4 229C551.2 230.4 550.9 231.1 549.9 232.4C548.9 233.8 546.6 235.4 545.3 237.1C543.9 238.8 542.7 240.3 541.8 242.4C540.9 244.5 541.2 247.7 540 249.4C538.8 251.2 536.5 252.6 534.7 252.9C533 253.2 530.8 252.4 529.5 251.1C528.2 249.8 526.9 247.2 526.8 245C526.6 242.8 527.8 240.2 528.6 238C529.4 235.8 530.8 233.9 531.5 232C532.2 230.1 532.1 228.1 532.9 226.6C533.7 225.1 534.8 224.1 536.4 223.1C538 222.1 540.9 221.7 542.2 220.7C543.5 219.7 543.9 218.6 544.3 217.2C544.7 215.8 543.8 213.8 544.6 212.5Z" fill="none" stroke="#2b3a20" stroke-width="0.45"/>
<circle cx="521.7" cy="262.7" r="10.4" fill="none" stroke="#2b3a20" stroke-width="0.45"/>
<rect x="528.2" y="205.6" width="10" height="10" rx="4.4" ry="4.4" fill="none" stroke="#2b3a20" stroke-width="0.45"/>
<circle cx="565.7" cy="211.4" r="1.6" fill="none" stroke="#2b3a20" stroke-width="0.45"/>
<circle cx="565.7" cy="211.4" r="2.8" fill="none" stroke="#2b3a20" stroke-width="0.45"/>
<circle cx="565.7" cy="211.4" r="4" fill="none" stroke="#2b3a20" stroke-width="0.45"/>
<circle cx="565.7" cy="211.4" r="6.9" fill="none" stroke="#2b3a20" stroke-width="0.45"/>
<ellipse cx="566.8" cy="211.8" rx="8.2" ry="8.9" fill="none" stroke="#2b3a20" stroke-width="0.45"/>
<ellipse cx="465.3" cy="72.9" rx="5" ry="3.3" fill="none" stroke="#2b3a20" stroke-width="0.45" transform="rotate(-20 465.3 72.9)"/>
<circle cx="462.8" cy="73.7" r="1.8" fill="none" stroke="#2b3a20" stroke-width="0.45"/>
<circle cx="468" cy="72" r="1.8" fill="none" stroke="#2b3a20" stroke-width="0.45"/>
<circle cx="489.6" cy="89.5" r="5.2" fill="none" stroke="#2b3a20" stroke-width="0.35"/>
<circle cx="489.8" cy="89.7" r="4.2" fill="none" stroke="#2b3a20" stroke-width="0.35"/>
<circle cx="490.1" cy="90" r="3.2" fill="none" stroke="#2b3a20" stroke-width="0.35"/>
<circle cx="490.3" cy="90.2" r="2.2" fill="none" stroke="#2b3a20" stroke-width="0.35"/>
<circle cx="490.6" cy="90.5" r="1.2" fill="none" stroke="#2b3a20" stroke-width="0.35"/>
<circle cx="489.8" cy="89.7" r="6.7" fill="none" stroke="#2b3a20" stroke-width="0.45"/>
<circle cx="491" cy="91" r="4.6" fill="url(#dense)"/>
<circle cx="501.6" cy="225.5" r="12.2" fill="none" stroke="#2b3a20" stroke-width="0.3"/>
<circle cx="502.1" cy="225.9" r="10.8" fill="none" stroke="#2b3a20" stroke-width="0.31875"/>
<circle cx="502.7" cy="226.4" r="9.3" fill="none" stroke="#2b3a20" stroke-width="0.33749999999999997"/>
<circle cx="503.2" cy="226.8" r="7.9" fill="none" stroke="#2b3a20" stroke-width="0.35624999999999996"/>
<circle cx="503.7" cy="227.3" r="6.5" fill="none" stroke="#2b3a20" stroke-width="0.375"/>
<circle cx="504.2" cy="227.8" r="5.1" fill="none" stroke="#2b3a20" stroke-width="0.39375"/>
<circle cx="504.8" cy="228.2" r="3.6" fill="none" stroke="#2b3a20" stroke-width="0.4125"/>
<circle cx="505.3" cy="228.7" r="2.2" fill="none" stroke="#2b3a20" stroke-width="0.43125"/>
<ellipse cx="505.3" cy="228.6" rx="7.6" ry="6.8" fill="url(#dense)"/>
<path d="M627.4 180C626.4 181.5 622.8 185.9 621.2 188.8C619.6 191.7 618.3 194.9 617.7 197.5C617.1 200.1 617 202.2 617.7 204.6C618.4 206.9 620.2 209.8 622.1 211.6C624 213.3 627.9 214.5 629.1 215.1" fill="none" stroke="#2b3a20" stroke-width="0.45"/>
<path d="M630.9 187C629.9 188.2 626.2 191.7 624.7 194C623.2 196.3 622.4 198.7 622.1 201C621.8 203.3 622.1 206 623 208.1C623.9 210.2 625.6 212.1 627.4 213.3C629.2 214.5 631.6 215 634 215.5C636.4 216 639 215.9 642 216.5C645 217.1 650.3 218.6 652 219" fill="none" stroke="#2b3a20" stroke-width="0.45"/>
<circle cx="633.9" cy="207.7" r="1.8" fill="none" stroke="#2b3a20" stroke-width="0.45"/>
<circle cx="633.9" cy="207.7" r="3.2" fill="none" stroke="#2b3a20" stroke-width="0.45"/>
<circle cx="633.9" cy="207.7" r="4.8" fill="none" stroke="#2b3a20" stroke-width="0.45"/>
<circle cx="633.9" cy="207.7" r="6.2" fill="none" stroke="#2b3a20" stroke-width="0.45"/>
<path d="M631.4 214.5C640 215 648 218 656 223M633 214.2C642 214 650 215 658 218" fill="none" stroke="#2b3a20" stroke-width="0.45"/>
<circle cx="505.3" cy="93.9" r="3.3" fill="none" stroke="#2b3a20" stroke-width="0.45"/>
<circle cx="530.9" cy="94.6" r="3.3" fill="none" stroke="#2b3a20" stroke-width="0.45"/>
<circle cx="593.5" cy="195.8" r="2.8" fill="none" stroke="#2b3a20" stroke-width="0.45"/>
<circle cx="631.4" cy="218.9" r="4.4" fill="none" stroke="#2b3a20" stroke-width="0.45"/>
<circle cx="497.1" cy="240.6" r="2.5" fill="none" stroke="#2b3a20" stroke-width="0.45"/>
<circle cx="511.2" cy="235.9" r="2.6" fill="none" stroke="#2b3a20" stroke-width="0.45"/>
<circle cx="472.2" cy="207.3" r="9.2" fill="none" stroke="#2b3a20" stroke-width="0.45"/>
<circle cx="481.6" cy="67.2" r="6.1" fill="none" stroke="#2b3a20" stroke-width="0.45"/>
<circle cx="493.9" cy="82.1" r="4.4" fill="none" stroke="#2b3a20" stroke-width="0.45"/>
</g>
<polygon points="512.1,18.4 661.6,227.5 506.2,298.4 371.4,97.2" fill="none" stroke="#111" stroke-width="1.1"/>
<text x="510" y="26" font-size="5.7" text-anchor="middle" transform="rotate(-25 510 26)" dy="2">25</text>
<text x="489.5" y="28.1" font-size="5.7" text-anchor="middle" transform="rotate(-30 489.5 28.1)" dy="2">75</text>
<text x="472.3" y="47.4" font-size="5.7" text-anchor="middle" transform="rotate(-75 472.3 47.4)" dy="2">25</text>
<text x="531.6" y="63.9" font-size="5.7" text-anchor="middle" transform="rotate(-70 531.6 63.9)" dy="2">50</text>
<text x="436" y="69.4" font-size="5.7" text-anchor="middle" transform="rotate(8 436 69.4)" dy="2">50</text>
<text x="439.7" y="82.1" font-size="5.7" text-anchor="middle" transform="rotate(-15 439.7 82.1)" dy="2">25</text>
<text x="461.4" y="65.3" font-size="5.7" text-anchor="middle" transform="rotate(-20 461.4 65.3)" dy="2">125</text>
<text x="473.9" y="63.7" font-size="5.7" text-anchor="middle" transform="rotate(100 473.9 63.7)" dy="2">50</text>
<text x="476" y="74.6" font-size="5.7" text-anchor="middle" transform="rotate(100 476 74.6)" dy="2">50</text>
<text x="484.7" y="62.6" font-size="5.7" text-anchor="middle" transform="rotate(60 484.7 62.6)" dy="2">25</text>
<text x="492.1" y="73.7" font-size="5.7" text-anchor="middle" transform="rotate(70 492.1 73.7)" dy="2">50</text>
<text x="504.9" y="84.2" font-size="5.7" text-anchor="middle" transform="rotate(60 504.9 84.2)" dy="2">50</text>
<text x="513.7" y="92.6" font-size="5.7" text-anchor="middle" transform="rotate(90 513.7 92.6)" dy="2">75</text>
<text x="534" y="89.5" font-size="5.7" text-anchor="middle" transform="rotate(60 534 89.5)" dy="2">50</text>
<text x="499" y="108.3" font-size="5.7" text-anchor="middle" transform="rotate(90 499 108.3)" dy="2">25</text>
<text x="573.3" y="111.9" font-size="5.7" text-anchor="middle" transform="rotate(60 573.3 111.9)" dy="2">25</text>
<text x="554.3" y="132.2" font-size="5.7" text-anchor="middle" transform="rotate(-30 554.3 132.2)" dy="2">25</text>
<text x="445.3" y="162.8" font-size="5.7" text-anchor="middle" transform="rotate(0 445.3 162.8)" dy="2">50</text>
<text x="553.7" y="156.2" font-size="5.7" text-anchor="middle" transform="rotate(-12 553.7 156.2)" dy="2">50</text>
<text x="459" y="207.3" font-size="5.7" text-anchor="middle" transform="rotate(90 459 207.3)" dy="2">50</text>
<text x="463.3" y="221.7" font-size="5.7" text-anchor="middle" transform="rotate(-10 463.3 221.7)" dy="2">75</text>
<text x="495.8" y="213.3" font-size="5.7" text-anchor="middle" transform="rotate(-20 495.8 213.3)" dy="2">125</text>
<text x="511.1" y="217.5" font-size="5.7" text-anchor="middle" transform="rotate(35 511.1 217.5)" dy="2">100</text>
<text x="531.2" y="202.4" font-size="5.7" text-anchor="middle" transform="rotate(0 531.2 202.4)" dy="2">25</text>
<text x="554.7" y="229" font-size="5.7" text-anchor="middle" transform="rotate(90 554.7 229)" dy="2">25</text>
<text x="520.2" y="250.5" font-size="5.7" text-anchor="middle" transform="rotate(0 520.2 250.5)" dy="2">25</text>
<text x="490.9" y="238.9" font-size="5.7" text-anchor="middle" transform="rotate(60 490.9 238.9)" dy="2">75</text>
<text x="592.6" y="189.5" font-size="5.7" text-anchor="middle" transform="rotate(0 592.6 189.5)" dy="2">25</text>
<text x="601.8" y="199.6" font-size="5.7" text-anchor="middle" transform="rotate(90 601.8 199.6)" dy="2">50</text>
<text x="575.4" y="202" font-size="5.7" text-anchor="middle" transform="rotate(60 575.4 202)" dy="2">75</text>
<text x="581.4" y="211" font-size="5.7" text-anchor="middle" transform="rotate(90 581.4 211)" dy="2">50</text>
<text x="558.3" y="207" font-size="5.7" text-anchor="middle" transform="rotate(-60 558.3 207)" dy="2">100</text>
<text x="624.7" y="196.7" font-size="5.7" text-anchor="middle" transform="rotate(0 624.7 196.7)" dy="2">75</text>
<text x="622.1" y="206.3" font-size="5.7" text-anchor="middle" transform="rotate(90 622.1 206.3)" dy="2">100</text>
<text x="636.1" y="201" font-size="5.7" text-anchor="middle" transform="rotate(20 636.1 201)" dy="2">125</text>
<text x="518" y="234" font-size="5.7" text-anchor="middle" transform="rotate(40 518 234)" dy="2">25</text>
<text x="503" y="228" font-size="5.7" text-anchor="middle" transform="rotate(60 503 228)" dy="2">100</text>
<text x="647" y="214" font-size="5.7" text-anchor="middle" transform="rotate(30 647 214)" dy="2">75</text>
<g fill="#111">
<circle cx="462.2" cy="74.2" r="1.35"/>
<circle cx="467.5" cy="71.9" r="1.35"/>
<circle cx="480.6" cy="67.8" r="1.35"/>
<circle cx="471.2" cy="78" r="1.35"/>
<circle cx="448.2" cy="81.1" r="1.35"/>
<circle cx="434.8" cy="92.9" r="1.35"/>
<circle cx="489.6" cy="89.5" r="1.35"/>
<circle cx="499.4" cy="88.4" r="1.35"/>
<circle cx="504.8" cy="94.1" r="1.35"/>
<circle cx="497.6" cy="96.2" r="1.35"/>
<circle cx="484" cy="96" r="1.35"/>
<circle cx="530.8" cy="95.3" r="1.35"/>
<circle cx="512.7" cy="104" r="1.35"/>
<circle cx="490.7" cy="108.1" r="1.35"/>
<circle cx="539.5" cy="104.3" r="1.35"/>
<circle cx="541.7" cy="111.7" r="1.35"/>
<circle cx="526.6" cy="134.7" r="1.35"/>
<circle cx="524.6" cy="140.4" r="1.35"/>
<circle cx="507.4" cy="144" r="1.35"/>
<circle cx="548.3" cy="149.2" r="1.35"/>
<circle cx="510.1" cy="159.7" r="1.35"/>
<circle cx="535.3" cy="165.5" r="1.35"/>
<circle cx="553.2" cy="168" r="1.35"/>
<circle cx="572.8" cy="176.2" r="1.35"/>
<circle cx="559.1" cy="187.5" r="1.35"/>
<circle cx="529.3" cy="192.4" r="1.35"/>
<circle cx="593.6" cy="195.6" r="1.35"/>
<circle cx="491.6" cy="186.3" r="1.35"/>
<circle cx="497.7" cy="202.7" r="1.35"/>
<circle cx="512.5" cy="205.4" r="1.35"/>
<circle cx="473.2" cy="209.4" r="1.35"/>
<circle cx="523.2" cy="209.1" r="1.35"/>
<circle cx="531.6" cy="210.6" r="1.35"/>
<circle cx="521.3" cy="220.2" r="1.35"/>
<circle cx="503.1" cy="226.5" r="1.35"/>
<circle cx="479.3" cy="234.4" r="1.35"/>
<circle cx="511" cy="235.6" r="1.35"/>
<circle cx="496.6" cy="240.2" r="1.35"/>
<circle cx="538.6" cy="228.4" r="1.35"/>
<circle cx="532.5" cy="242.6" r="1.35"/>
<circle cx="520.5" cy="261.9" r="1.35"/>
<circle cx="551.8" cy="214.4" r="1.35"/>
<circle cx="565.6" cy="210.9" r="1.35"/>
<circle cx="585.8" cy="210.6" r="1.35"/>
<circle cx="595.3" cy="218.2" r="1.35"/>
<circle cx="622.5" cy="200.5" r="1.35"/>
<circle cx="633.9" cy="207.6" r="1.35"/>
<circle cx="632.1" cy="218.7" r="1.35"/>
<circle cx="622.4" cy="228.2" r="1.35"/>
<circle cx="493" cy="82" r="1.7"/>
</g>
<rect x="11.6" y="11.8" width="319.3" height="317.6" fill="none" stroke="#111" stroke-width="1.1"/>
<path d="M52.6 9.2V11.8M52.6 329.4V332" stroke="#111" stroke-width="0.95"/>
<path d="M195.4 9.2V11.8M195.4 329.4V332" stroke="#111" stroke-width="0.95"/>
<path d="M8.8 35H11.6M330.9 35H333.7" stroke="#111" stroke-width="0.95"/>
<path d="M8.8 176.4H11.6M330.9 176.4H333.7" stroke="#111" stroke-width="0.95"/>
<path d="M8.8 318H11.6M330.9 318H333.7" stroke="#111" stroke-width="0.95"/>
<text x="52.6" y="6.9" font-size="6.1" text-anchor="middle">80°45'0"E</text>
<text x="52.6" y="338.6" font-size="6.1" text-anchor="middle">80°45'0"E</text>
<text x="195.2" y="6.9" font-size="6.1" text-anchor="middle">80°55'30"E</text>
<text x="195.2" y="338.6" font-size="6.1" text-anchor="middle">80°55'30"E</text>
<text x="4.4" y="35" font-size="6.1" text-anchor="middle" transform="rotate(-90 4.4 35)" dy="2">23°34'30"N</text>
<text x="338.3" y="35" font-size="6.1" text-anchor="middle" transform="rotate(-90 338.3 35)" dy="2">23°34'30"N</text>
<text x="4.4" y="176.4" font-size="6.1" text-anchor="middle" transform="rotate(-90 4.4 176.4)" dy="2">23°24'0"N</text>
<text x="338.3" y="176.4" font-size="6.1" text-anchor="middle" transform="rotate(-90 338.3 176.4)" dy="2">23°24'0"N</text>
<text x="4.4" y="318" font-size="6.1" text-anchor="middle" transform="rotate(-90 4.4 318)" dy="2">23°13'30"N</text>
<text x="338.3" y="318" font-size="6.1" text-anchor="middle" transform="rotate(-90 338.3 318)" dy="2">23°13'30"N</text>
<text x="14.7" y="244" font-size="9.6" font-weight="bold">Mn (Post-monsoon)</text>
<text x="14.7" y="257" font-size="9.6" font-weight="bold">&lt;µg/L&gt;</text>
<rect x="14.2" y="264.3" width="19.6" height="9" fill="#5cac3e" stroke="#6b6b5c" stroke-width="0.7"/>
<text x="37" y="272.1" font-size="9.6" stroke="#111" stroke-width="0.2">&lt; 50</text>
<rect x="14.2" y="277.8" width="19.6" height="9" fill="#c4d96e" stroke="#6b6b5c" stroke-width="0.7"/>
<text x="37" y="285.6" font-size="9.6" stroke="#111" stroke-width="0.2">50.1 - 100</text>
<rect x="14.2" y="291.2" width="19.6" height="9" fill="#e6442a" stroke="#6b6b5c" stroke-width="0.7"/>
<text x="37" y="299" font-size="9.6" stroke="#111" stroke-width="0.2">&gt; 100</text>
<path d="M14.2 307.4H33.8" stroke="#555" stroke-width="0.8"/>
<text x="37" y="311" font-size="9.6" stroke="#111" stroke-width="0.2">Contour Line</text>
<rect x="14.2" y="316.3" width="19.6" height="8.7" fill="#fff" stroke="#222" stroke-width="0.8"/>
<text x="37" y="324.7" font-size="9.6" stroke="#111" stroke-width="0.2">Study Area</text>
<rect x="192.1" y="311.5" width="123.5" height="6.1" fill="#fff" stroke="#111" stroke-width="0.5"/>
<rect x="192.1" y="311.5" width="7.7" height="3.1" fill="#111"/>
<rect x="199.8" y="314.6" width="7.7" height="3.1" fill="#111"/>
<rect x="207.5" y="311.5" width="7.7" height="3.1" fill="#111"/>
<rect x="215.3" y="314.6" width="7.7" height="3.1" fill="#111"/>
<rect x="223" y="311.5" width="30.9" height="3.1" fill="#111"/>
<rect x="253.9" y="314.6" width="30.9" height="3.1" fill="#111"/>
<rect x="284.7" y="311.5" width="30.9" height="3.1" fill="#111"/>
<text x="192.1" y="308" font-size="5.8" text-anchor="middle" font-family="'Liberation Sans',sans-serif">0</text>
<text x="207.5" y="308" font-size="5.8" text-anchor="middle" font-family="'Liberation Sans',sans-serif">2</text>
<text x="223" y="308" font-size="5.8" text-anchor="middle" font-family="'Liberation Sans',sans-serif">4</text>
<text x="253.9" y="308" font-size="5.8" text-anchor="middle" font-family="'Liberation Sans',sans-serif">8</text>
<text x="284.7" y="308" font-size="5.8" text-anchor="middle" font-family="'Liberation Sans',sans-serif">12</text>
<text x="315.6" y="308" font-size="5.8" text-anchor="middle" font-family="'Liberation Sans',sans-serif">16</text>
<text x="317.2" y="317.2" font-size="5.8" font-family="'Liberation Sans',sans-serif">Km</text>
<g transform="translate(305.7 38.3)">
<g transform="rotate(0)"><path d="M0 -15.2 L-3 -3 L0 0Z" fill="#fff" stroke="#111" stroke-width="0.45"/><path d="M0 -15.2 L3 -3 L0 0Z" fill="#111" stroke="#111" stroke-width="0.45"/></g>
<g transform="rotate(90)"><path d="M0 -15.2 L-3 -3 L0 0Z" fill="#fff" stroke="#111" stroke-width="0.45"/><path d="M0 -15.2 L3 -3 L0 0Z" fill="#111" stroke="#111" stroke-width="0.45"/></g>
<g transform="rotate(180)"><path d="M0 -15.2 L-3 -3 L0 0Z" fill="#fff" stroke="#111" stroke-width="0.45"/><path d="M0 -15.2 L3 -3 L0 0Z" fill="#111" stroke="#111" stroke-width="0.45"/></g>
<g transform="rotate(270)"><path d="M0 -15.2 L-3 -3 L0 0Z" fill="#fff" stroke="#111" stroke-width="0.45"/><path d="M0 -15.2 L3 -3 L0 0Z" fill="#111" stroke="#111" stroke-width="0.45"/></g>
<circle r="6.2" fill="#fff" stroke="#111" stroke-width="1.1"/>
<path d="M0 0V-4.7A4.7 4.7 0 0 1 4.7 0Z M0 0V4.7A4.7 4.7 0 0 1 -4.7 0Z" fill="#111"/>
<circle r="4.7" fill="none" stroke="#111" stroke-width="0.4"/>
</g>
<text x="305.7" y="22" font-size="7.8" font-weight="bold" text-anchor="middle">N</text>
<text x="305.7" y="60.7" font-size="7.8" font-weight="bold" text-anchor="middle">S</text>
<text x="286.7" y="40.8" font-size="7.8" font-weight="bold" text-anchor="middle">W</text>
<text x="324.3" y="40.8" font-size="7.8" font-weight="bold" text-anchor="middle">E</text>
<rect x="353.3" y="11.8" width="318.4" height="317.6" fill="none" stroke="#111" stroke-width="1.1"/>
<path d="M393.8 9.2V11.8M393.8 329.4V332" stroke="#111" stroke-width="0.95"/>
<path d="M536.3 9.2V11.8M536.3 329.4V332" stroke="#111" stroke-width="0.95"/>
<path d="M350.5 35H353.3M671.7 35H674.5" stroke="#111" stroke-width="0.95"/>
<path d="M350.5 176.4H353.3M671.7 176.4H674.5" stroke="#111" stroke-width="0.95"/>
<path d="M350.5 318H353.3M671.7 318H674.5" stroke="#111" stroke-width="0.95"/>
<text x="393.8" y="6.9" font-size="6.1" text-anchor="middle">80°45'0"E</text>
<text x="393.8" y="338.6" font-size="6.1" text-anchor="middle">80°45'0"E</text>
<text x="536.4" y="6.9" font-size="6.1" text-anchor="middle">80°55'30"E</text>
<text x="536.4" y="338.6" font-size="6.1" text-anchor="middle">80°55'30"E</text>
<text x="346.1" y="35" font-size="6.1" text-anchor="middle" transform="rotate(-90 346.1 35)" dy="2">23°34'30"N</text>
<text x="679.1" y="35" font-size="6.1" text-anchor="middle" transform="rotate(-90 679.1 35)" dy="2">23°34'30"N</text>
<text x="346.1" y="176.4" font-size="6.1" text-anchor="middle" transform="rotate(-90 346.1 176.4)" dy="2">23°24'0"N</text>
<text x="679.1" y="176.4" font-size="6.1" text-anchor="middle" transform="rotate(-90 679.1 176.4)" dy="2">23°24'0"N</text>
<text x="346.1" y="318" font-size="6.1" text-anchor="middle" transform="rotate(-90 346.1 318)" dy="2">23°13'30"N</text>
<text x="679.1" y="318" font-size="6.1" text-anchor="middle" transform="rotate(-90 679.1 318)" dy="2">23°13'30"N</text>
<text x="357.1" y="246.4" font-size="9.6" font-weight="bold">Mn (Pre-monsoon)</text>
<text x="357.1" y="259.6" font-size="9.6" font-weight="bold">&lt;µg/L&gt;</text>
<rect x="356.6" y="266.1" width="19.6" height="9" fill="#5cac3e" stroke="#6b6b5c" stroke-width="0.7"/>
<text x="379.4" y="273.9" font-size="9.6" stroke="#111" stroke-width="0.2">&lt; 50</text>
<rect x="356.6" y="279.2" width="19.6" height="9" fill="#c4d96e" stroke="#6b6b5c" stroke-width="0.7"/>
<text x="379.4" y="287.1" font-size="9.6" stroke="#111" stroke-width="0.2">50.1 - 100</text>
<rect x="356.6" y="292.4" width="19.6" height="9" fill="#e6442a" stroke="#6b6b5c" stroke-width="0.7"/>
<text x="379.4" y="300.2" font-size="9.6" stroke="#111" stroke-width="0.2">&gt; 100</text>
<path d="M356.6 308H376.2" stroke="#a8a8a8" stroke-width="1.0"/>
<text x="379.4" y="311.2" font-size="9.6" stroke="#111" stroke-width="0.2">Contour Line</text>
<rect x="356.6" y="316.7" width="19.6" height="8.7" fill="#fff" stroke="#222" stroke-width="0.8"/>
<text x="379.4" y="324.9" font-size="9.6" stroke="#111" stroke-width="0.2">Study Area</text>
<rect x="533.3" y="311.5" width="123.5" height="6.1" fill="#fff" stroke="#111" stroke-width="0.5"/>
<rect x="533.3" y="311.5" width="7.7" height="3.1" fill="#111"/>
<rect x="541" y="314.6" width="7.7" height="3.1" fill="#111"/>
<rect x="548.7" y="311.5" width="7.7" height="3.1" fill="#111"/>
<rect x="556.5" y="314.6" width="7.7" height="3.1" fill="#111"/>
<rect x="564.2" y="311.5" width="30.9" height="3.1" fill="#111"/>
<rect x="595.1" y="314.6" width="30.9" height="3.1" fill="#111"/>
<rect x="625.9" y="311.5" width="30.9" height="3.1" fill="#111"/>
<text x="533.3" y="308" font-size="5.8" text-anchor="middle" font-family="'Liberation Sans',sans-serif">0</text>
<text x="548.7" y="308" font-size="5.8" text-anchor="middle" font-family="'Liberation Sans',sans-serif">2</text>
<text x="564.2" y="308" font-size="5.8" text-anchor="middle" font-family="'Liberation Sans',sans-serif">4</text>
<text x="595.1" y="308" font-size="5.8" text-anchor="middle" font-family="'Liberation Sans',sans-serif">8</text>
<text x="625.9" y="308" font-size="5.8" text-anchor="middle" font-family="'Liberation Sans',sans-serif">12</text>
<text x="656.8" y="308" font-size="5.8" text-anchor="middle" font-family="'Liberation Sans',sans-serif">16</text>
<text x="658.4" y="317.2" font-size="5.8" font-family="'Liberation Sans',sans-serif">Km</text>
<g transform="translate(645.9 38.3)">
<g transform="rotate(0)"><path d="M0 -15.2 L-3 -3 L0 0Z" fill="#fff" stroke="#111" stroke-width="0.45"/><path d="M0 -15.2 L3 -3 L0 0Z" fill="#111" stroke="#111" stroke-width="0.45"/></g>
<g transform="rotate(90)"><path d="M0 -15.2 L-3 -3 L0 0Z" fill="#fff" stroke="#111" stroke-width="0.45"/><path d="M0 -15.2 L3 -3 L0 0Z" fill="#111" stroke="#111" stroke-width="0.45"/></g>
<g transform="rotate(180)"><path d="M0 -15.2 L-3 -3 L0 0Z" fill="#fff" stroke="#111" stroke-width="0.45"/><path d="M0 -15.2 L3 -3 L0 0Z" fill="#111" stroke="#111" stroke-width="0.45"/></g>
<g transform="rotate(270)"><path d="M0 -15.2 L-3 -3 L0 0Z" fill="#fff" stroke="#111" stroke-width="0.45"/><path d="M0 -15.2 L3 -3 L0 0Z" fill="#111" stroke="#111" stroke-width="0.45"/></g>
<circle r="6.2" fill="#fff" stroke="#111" stroke-width="1.1"/>
<path d="M0 0V-4.7A4.7 4.7 0 0 1 4.7 0Z M0 0V4.7A4.7 4.7 0 0 1 -4.7 0Z" fill="#111"/>
<circle r="4.7" fill="none" stroke="#111" stroke-width="0.4"/>
</g>
<text x="645.9" y="22" font-size="7.8" font-weight="bold" text-anchor="middle">N</text>
<text x="645.9" y="60.7" font-size="7.8" font-weight="bold" text-anchor="middle">S</text>
<text x="626.9" y="40.8" font-size="7.8" font-weight="bold" text-anchor="middle">W</text>
<text x="664.5" y="40.8" font-size="7.8" font-weight="bold" text-anchor="middle">E</text>
</svg>
</body></html>
